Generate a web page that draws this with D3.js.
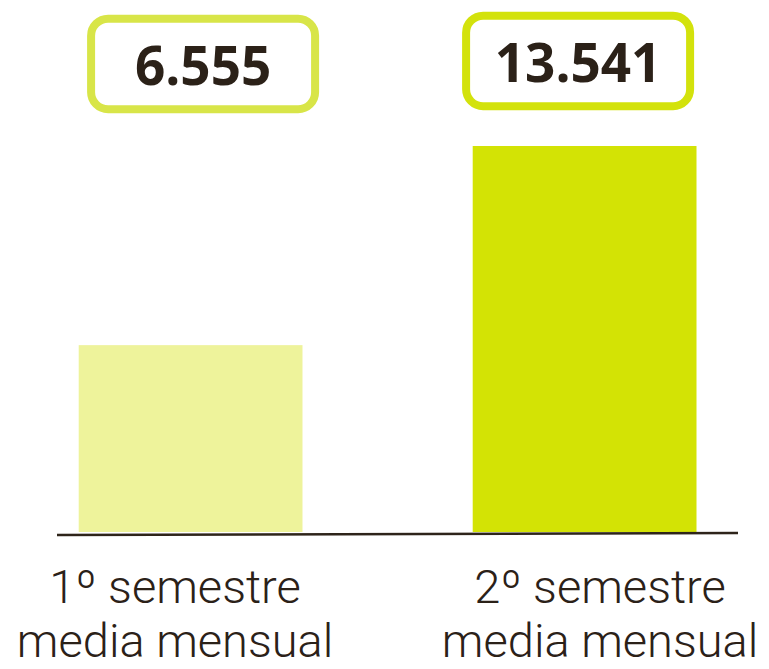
<!DOCTYPE html>
<html>
    <head>
        <meta charset="utf-8">
        <title>Media mensual por semestre</title>
        <script src="https://d3js.org/d3.v7.min.js"></script>
        <style>
            body{
                margin:0;
                background:#fff;
            }
        </style>
    </head>
    <body>
        <svg width="769" height="669"></svg>
    </body>
    <script>
        // Daten
        const semestres = ["1º semestre", "2º semestre"];
        const etiquetas = [["1º semestre", "media mensual"], ["2º semestre", "media mensual"]];
        const valores = [6555, 13541];
        const coloresBarra = ["#eef39b", "#d3e305"];
        const coloresCaja = ["#d8e548", "#d3e20c"];

        const svg = d3.select("svg");
        const tinta = "#2b2118";

        // Zahlen im spanischen Format (6.555)
        const es = d3.formatLocale({decimal: ",", thousands: ".", grouping: [3], currency: ["", " €"]});
        const fmt = es.format(",d");

        const x = d3.scaleBand()
                .domain(semestres)
                .range([78.7, 696.5])
                .paddingInner(0.432)
                .paddingOuter(0);

        const y = d3.scaleLinear()
                .domain([0, d3.max(valores)])
                .range([532, 146]);

        // Balken
        svg.selectAll("rect.bar")
                .data(valores)
                .join("rect")
                .attr("class", "bar")
                .attr("x", (d, i) => x(semestres[i]))
                .attr("y", d => y(d))
                .attr("width", x.bandwidth())
                .attr("height", d => y(0) - y(d))
                .attr("fill", (d, i) => coloresBarra[i]);

        // Grundlinie (leicht schräg wie im Original)
        svg.append("line")
                .attr("x1", 57).attr("y1", 535)
                .attr("x2", 738).attr("y2", 533)
                .attr("stroke", "#2e241a")
                .attr("stroke-width", 2.5);

        // Wertkästen oben
        const cajaDx = [12.5, -6.5]; // Kästen sitzen nicht genau mittig über den Balken
        const cajaY = [18.7, 15.7];
        const caja = svg.selectAll("g.caja")
                .data(valores)
                .join("g")
                .attr("class", "caja")
                .attr("transform", (d, i) => `translate(${x(semestres[i]) + x.bandwidth() / 2 + cajaDx[i]},${cajaY[i]})`);

        caja.append("rect")
                .attr("x", -112)
                .attr("y", 0)
                .attr("width", 224)
                .attr("height", 90.5)
                .attr("rx", 17)
                .attr("fill", "#fff")
                .attr("stroke", (d, i) => coloresCaja[i])
                .attr("stroke-width", 8);

        caja.append("text")
                .attr("x", 0)
                .attr("y", 66.5)
                .attr("text-anchor", "middle")
                .style("font-family", "'Open Sans', sans-serif")
                .style("font-weight", 700)
                .style("font-size", "53px")
                .attr("fill", tinta)
                .text(d => fmt(d));

        // Beschriftung unten
        const etiquetaDx = [-15.5, 15.5];
        const etiqueta = svg.selectAll("text.cat")
                .data(etiquetas)
                .join("text")
                .attr("class", "cat")
                .attr("text-anchor", "middle")
                .style("font-family", "Roboto, sans-serif")
                .style("font-weight", 300)
                .style("font-size", "47px")
                .attr("fill", tinta);

        etiqueta.selectAll("tspan")
                .data((d, i) => d.map(t => ({t, i})))
                .join("tspan")
                .attr("x", d => x(semestres[d.i]) + x.bandwidth() / 2 + etiquetaDx[d.i])
                .attr("y", (d, j) => j === 0 ? 603 : 657)
                .text(d => d.t);
    </script>
</html>
